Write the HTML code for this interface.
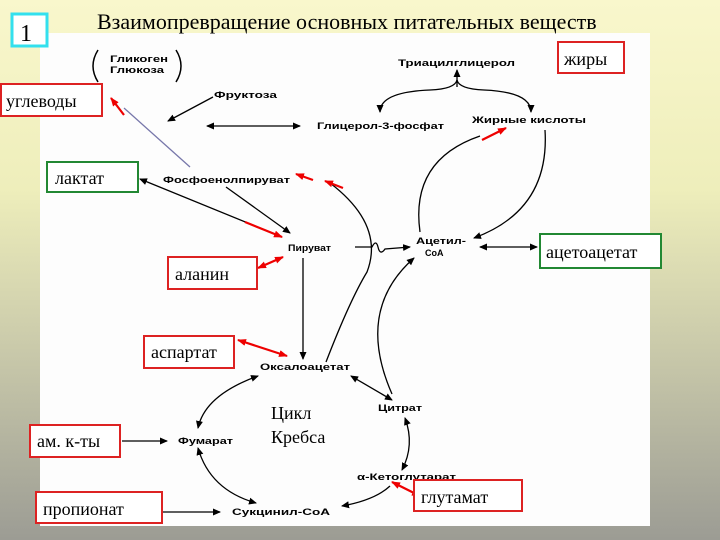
<!DOCTYPE html>
<html><head><meta charset="utf-8"><style>
html,body{margin:0;padding:0}
body{width:720px;height:540px;overflow:hidden;background:linear-gradient(#f9f7cc 0%,#eeeebb 35%,#c9c9aa 65%,#9c9c94 100%);position:relative;font-family:"Liberation Serif",serif}
</style></head><body>
<svg width="720" height="540" xmlns="http://www.w3.org/2000/svg" style="position:absolute;left:0;top:0">
<defs>
<marker id="a" markerWidth="8" markerHeight="8" refX="7" refY="4" orient="auto-start-reverse" markerUnits="userSpaceOnUse"><path d="M0,0.5 L8,4 L0,7.5 z" fill="#000"/></marker>
<marker id="r" markerWidth="9" markerHeight="8" refX="8" refY="4" orient="auto-start-reverse" markerUnits="userSpaceOnUse"><path d="M0,0.5 L9,4 L0,7.5 z" fill="#e00"/></marker>
</defs>
<rect x="40" y="33" width="610" height="493" fill="#fdfdfd"/>
<text x="97" y="29" font-size="22" font-family="Liberation Serif,serif">Взаимопревращение основных питательных веществ</text>
<rect x="12" y="14" width="35" height="32" fill="#fff" stroke="#33e0ee" stroke-width="3"/>
<text x="20" y="41" font-size="24">1</text>
<g font-family="Liberation Sans,sans-serif" font-weight="bold" font-size="9" lengthAdjust="spacingAndGlyphs">
<text x="110" y="62" textLength="58" lengthAdjust="spacingAndGlyphs">Гликоген</text><text x="110" y="73" textLength="54" lengthAdjust="spacingAndGlyphs">Глюкоза</text>
<text x="398" y="66" textLength="117" lengthAdjust="spacingAndGlyphs">Триацилглицерол</text>
<text x="214" y="98" textLength="63" lengthAdjust="spacingAndGlyphs">Фруктоза</text>
<text x="317" y="129" textLength="127" lengthAdjust="spacingAndGlyphs">Глицерол-3-фосфат</text>
<text x="472" y="123" textLength="114" lengthAdjust="spacingAndGlyphs">Жирные кислоты</text>
<text x="163" y="183" textLength="127" lengthAdjust="spacingAndGlyphs">Фосфоенолпируват</text>
<text x="288" y="251" textLength="43" lengthAdjust="spacingAndGlyphs">Пируват</text>
<text x="416" y="244" textLength="50" lengthAdjust="spacingAndGlyphs">Ацетил-</text><text x="425" y="256">CoA</text>
<text x="260" y="370" textLength="90" lengthAdjust="spacingAndGlyphs">Оксалоацетат</text>
<text x="378" y="411" textLength="44" lengthAdjust="spacingAndGlyphs">Цитрат</text>
<text x="178" y="444" textLength="55" lengthAdjust="spacingAndGlyphs">Фумарат</text>
<text x="357" y="480" textLength="99" lengthAdjust="spacingAndGlyphs">α-Кетоглутарат</text>
<text x="232" y="515" textLength="98" lengthAdjust="spacingAndGlyphs">Сукцинил-CoA</text>
</g>
<path d="M98,50 Q88,66 98,82" fill="none" stroke="#000" stroke-width="1.5"/>
<path d="M176,50 Q186,66 176,82" fill="none" stroke="#000" stroke-width="1.5"/>
<text x="271" y="419" font-size="18">Цикл</text><text x="271" y="443" font-size="18">Кребса</text>
<g fill="none" stroke="#000" stroke-width="1.3">
<line x1="213" y1="97" x2="168" y2="121" marker-end="url(#a)"/>
<line x1="207" y1="126" x2="300" y2="126" marker-start="url(#a)" marker-end="url(#a)"/>
<line x1="457" y1="87" x2="457" y2="70" marker-end="url(#a)"/>
<path d="M380,112 Q380,92 430,90 Q455,89 457,80 Q459,89 484,90 Q531,92 531,112" marker-start="url(#a)" marker-end="url(#a)"/>
<line x1="140" y1="179" x2="282" y2="237" marker-start="url(#a)"/>
<line x1="226" y1="187" x2="290" y2="233" marker-end="url(#a)"/>
<path d="M326,362 Q350,300 367,272 Q385,225 330,183"/>
<path d="M355,247 L372,247 Q376,239 378,247 Q380,256 385,249 L410,247" marker-end="url(#a)"/>
<line x1="303" y1="258" x2="303" y2="359" marker-end="url(#a)"/>
<line x1="480" y1="247" x2="537" y2="247" marker-start="url(#a)" marker-end="url(#a)"/>
<path d="M420,232 Q410,160 480,136"/>
<path d="M545,130 Q550,210 474,238" marker-end="url(#a)"/>
<path d="M392,394 Q355,310 414,258" marker-end="url(#a)"/>
<line x1="351" y1="376" x2="392" y2="400" marker-start="url(#a)" marker-end="url(#a)"/>
<path d="M258,376 Q205,395 198,428" marker-start="url(#a)" marker-end="url(#a)"/>
<path d="M198,448 Q210,490 256,503" marker-start="url(#a)" marker-end="url(#a)"/>
<path d="M390,486 Q375,500 342,506" marker-end="url(#a)"/>
<path d="M405,418 Q415,445 402,470" marker-start="url(#a)" marker-end="url(#a)"/>
<line x1="122" y1="441" x2="167" y2="441" marker-end="url(#a)"/>
<line x1="163" y1="512" x2="220" y2="512" marker-end="url(#a)"/>
</g>
<line x1="190" y1="167" x2="124" y2="108" stroke="#7777aa" stroke-width="1.3"/>
<g stroke="#e00" stroke-width="2.2" fill="none">
<line x1="124" y1="115" x2="111" y2="98" marker-end="url(#r)"/>
<line x1="245" y1="222" x2="282" y2="237" marker-end="url(#r)"/>
<line x1="313" y1="180" x2="296" y2="174" marker-end="url(#r)"/>
<line x1="343" y1="188" x2="325" y2="181" marker-end="url(#r)"/>
<line x1="258" y1="268" x2="283" y2="257" marker-start="url(#r)" marker-end="url(#r)"/>
<line x1="482" y1="140" x2="506" y2="128" marker-end="url(#r)"/>
<line x1="238" y1="340" x2="287" y2="356" marker-start="url(#r)" marker-end="url(#r)"/>
<line x1="392" y1="482" x2="420" y2="496" marker-start="url(#r)" marker-end="url(#r)"/>
</g>
<g font-size="18" stroke-width="2" fill="#fff">
<rect x="558" y="42" width="66" height="31" stroke="#d22"/>
<rect x="1" y="84" width="101" height="32" stroke="#d22"/>
<rect x="47" y="162" width="91" height="30" stroke="#228833"/>
<rect x="540" y="234" width="121" height="34" stroke="#228833"/>
<rect x="168" y="257" width="89" height="32" stroke="#d22"/>
<rect x="144" y="336" width="90" height="32" stroke="#d22"/>
<rect x="30" y="425" width="90" height="32" stroke="#d22"/>
<rect x="36" y="492" width="126" height="31" stroke="#d22"/>
<rect x="414" y="480" width="108" height="31" stroke="#d22"/>
</g>
<g font-size="18" fill="#000">
<text x="564" y="65">жиры</text>
<text x="6" y="107">углеводы</text>
<text x="55" y="184">лактат</text>
<text x="546" y="258">ацетоацетат</text>
<text x="175" y="280">аланин</text>
<text x="151" y="358">аспартат</text>
<text x="37" y="447">ам. к-ты</text>
<text x="43" y="515">пропионат</text>
<text x="421" y="503">глутамат</text>
</g>
</svg>
</body></html>
